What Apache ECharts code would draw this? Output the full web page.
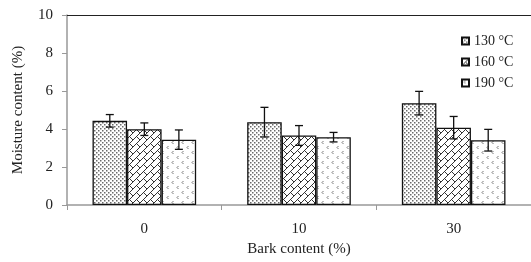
<!DOCTYPE html>
<html>
<head>
<meta charset="utf-8">
<script src="https://cdn.jsdelivr.net/npm/echarts@6/dist/echarts.min.js"></script>
<style>
  html, body { margin: 0; padding: 0; background: #fff; }
  #chart { width: 531px; height: 262px; }
</style>
</head>
<body>
<div id="chart"></div>
<script>
// 数据
const categories = ["0", "10", "30"];
const seriesNames = ["130 °C", "160 °C", "190 °C"];
const moisture130 = [4.43, 4.36, 5.36];
const moisture160 = [3.99, 3.66, 4.07];
const moisture190 = [3.44, 3.57, 3.41];
const err130 = [0.33, 0.78, 0.62];
const err160 = [0.33, 0.52, 0.59];
const err190 = [0.51, 0.25, 0.57];
const yTicks = [0, 2, 4, 6, 8, 10];

const values = [moisture130, moisture160, moisture190];
const errors = [err130, err160, err190];

const FONT = "Liberation Serif";

// 填充图案
function dotPattern() {
  const c = document.createElement("canvas");
  c.width = 4; c.height = 4;
  const ctx = c.getContext("2d");
  ctx.fillStyle = "#fff";
  ctx.fillRect(0, 0, 4, 4);
  ctx.fillStyle = "#6a6a6a";
  ctx.fillRect(0, 0, 1.5, 1.5);
  ctx.fillRect(2, 2, 1.5, 1.5);
  return c;
}

function brickPattern() {
  const s = 14;
  const c = document.createElement("canvas");
  c.width = s; c.height = s;
  const ctx = c.getContext("2d");
  ctx.fillStyle = "#fff";
  ctx.fillRect(0, 0, s, s);
  ctx.strokeStyle = "#333";
  ctx.lineWidth = 1;
  // u = x + y, v = x - y
  const pt = (u, v) => [(u + v) / 2, (u - v) / 2];
  const segs = [
    [pt(7, -20), pt(7, 20)],
    [pt(14, -20), pt(14, 20)],
    [pt(7, 0), pt(14, 0)],
    [pt(7, 14), pt(14, 14)],
    [pt(0, 7), pt(7, 7)],
    [pt(0, -7), pt(7, -7)],
  ];
  for (let dx = -s; dx <= s; dx += s) {
    for (let dy = -s; dy <= s; dy += s) {
      segs.forEach(([a, b]) => {
        ctx.beginPath();
        ctx.moveTo(a[0] + dx, a[1] + dy);
        ctx.lineTo(b[0] + dx, b[1] + dy);
        ctx.stroke();
      });
    }
  }
  return c;
}

function chevronPattern() {
  const c = document.createElement("canvas");
  c.width = 10; c.height = 10;
  const ctx = c.getContext("2d");
  ctx.fillStyle = "#fff";
  ctx.fillRect(0, 0, 10, 10);
  ctx.strokeStyle = "#777";
  ctx.lineWidth = 1;
  const mark = (x, y) => {
    ctx.beginPath();
    ctx.moveTo(x + 1.5, y - 1.5);
    ctx.lineTo(x, y);
    ctx.lineTo(x + 1.5, y + 1.5);
    ctx.stroke();
  };
  mark(2, 2.5);
  mark(7, 7.5);
  return c;
}

const patterns = [dotPattern(), brickPattern(), chevronPattern()];

const myEcharts = echarts.init(document.getElementById("chart"));

const barSeries = seriesNames.map((name, i) => ({
  name: name,
  type: "bar",
  data: values[i],
  barGap: "0%",
  barCategoryGap: "33%",
  itemStyle: {
    color: { image: patterns[i], repeat: "repeat" },
    borderColor: "#111",
    borderWidth: 1.3,
  },
  emphasis: { disabled: true },
  z: 2,
}));

// 误差线
const errorSeries = seriesNames.map((name, i) => ({
  type: "custom",
  name: name + " err",
  data: values[i].map((v, j) => [j, v - errors[i][j], v + errors[i][j]]),
  z: 5,
  renderItem: function (params, api) {
    const idx = api.value(0);
    const lo = api.coord([idx, api.value(1)]);
    const hi = api.coord([idx, api.value(2)]);
    const band = api.size([1, 0])[0];
    const barW = (band * 0.67) / 3;
    const x = lo[0] + (i - 1) * barW;
    const cap = 4;
    const style = { stroke: "#111", lineWidth: 1.3 };
    return {
      type: "group",
      children: [
        { type: "line", shape: { x1: x, y1: lo[1], x2: x, y2: hi[1] }, style: style },
        { type: "line", shape: { x1: x - cap, y1: hi[1], x2: x + cap, y2: hi[1] }, style: style },
        { type: "line", shape: { x1: x - cap, y1: lo[1], x2: x + cap, y2: lo[1] }, style: style },
      ],
    };
  },
}));

const option = {
  animation: false,
  textStyle: { fontFamily: FONT },
  grid: { left: 67, right: 0, top: 15, bottom: 55 },
  legend: {
    data: seriesNames,
    orient: "vertical",
    left: 456,
    top: 29,
    itemWidth: 7,
    itemHeight: 7,
    itemGap: 7,
    icon: "rect",
    textStyle: { fontFamily: FONT, fontSize: 14, color: "#222" },
  },
  xAxis: [
    {
      type: "category",
      data: categories,
      name: "Bark content (%)",
      nameLocation: "middle",
      nameGap: 37,
      nameTextStyle: { fontFamily: FONT, fontSize: 15, color: "#222" },
      axisLine: { lineStyle: { color: "#999", width: 1.5 } },
      axisTick: { show: true, length: 5, lineStyle: { color: "#999" } },
      axisLabel: { fontFamily: FONT, fontSize: 15, color: "#222", margin: 17 },
    },
    {
      type: "category",
      data: categories,
      position: "top",
      axisLine: { lineStyle: { color: "#222", width: 1 } },
      axisTick: { show: false },
      axisLabel: { show: false },
    },
  ],
  yAxis: {
    type: "value",
    min: yTicks[0],
    max: yTicks[yTicks.length - 1],
    interval: 2,
    name: "Moisture content (%)",
    nameLocation: "middle",
    nameGap: 41,
    nameTextStyle: { fontFamily: FONT, fontSize: 15, color: "#222" },
    axisLine: { show: true, lineStyle: { color: "#999", width: 1.5 } },
    axisTick: { show: true, length: 5, lineStyle: { color: "#999" } },
    axisLabel: { fontFamily: FONT, fontSize: 15, color: "#222", margin: 14 },
    splitLine: { show: false },
  },
  series: barSeries.concat(errorSeries),
};

myEcharts.setOption(option);
</script>
</body>
</html>
